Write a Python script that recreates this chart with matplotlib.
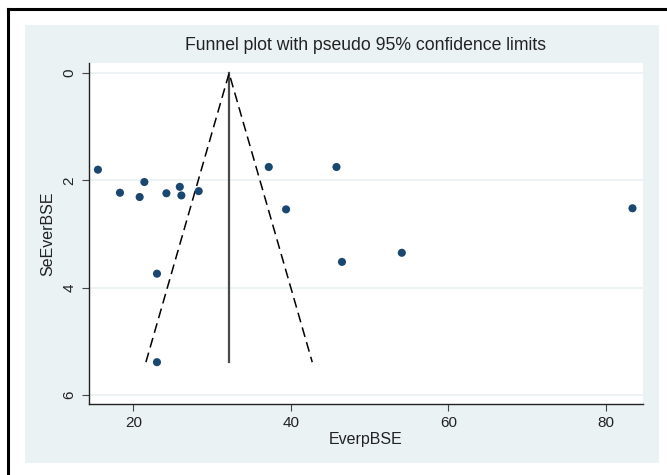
"""
Funnel plot with pseudo 95% confidence limits (Stata look).
"""
import matplotlib.pyplot as plt
import numpy as np
from matplotlib.lines import Line2D
from matplotlib.patches import Rectangle

# Study effect sizes and their standard errors
effect = [15.5, 18.3, 20.8, 21.4, 24.2, 25.9, 26.1, 28.3, 37.2, 39.4,
          45.8, 46.5, 23.0, 23.0, 54.1, 83.4]
se = [1.80, 2.23, 2.31, 2.03, 2.24, 2.12, 2.28, 2.20, 1.75, 2.54,
      1.75, 3.52, 3.74, 5.39, 3.35, 2.52]

pooled = 32.16
x_ticks = [20, 40, 60, 80]
y_ticks = [0, 2, 4, 6]

BG = "#eaf2f3"
NAVY = "#1a476f"

plt.rcParams["font.family"] = ["Liberation Sans", "DejaVu Sans"]

fig = plt.figure(figsize=(6.67, 4.75), dpi=100)
fig.patch.set_facecolor("white")

# light graph region and the black frame round it
fig.add_artist(Rectangle((0.0375, 0.0246), 0.9505, 0.9228, transform=fig.transFigure,
                         facecolor=BG, edgecolor="none", zorder=0))
fig.add_artist(Line2D([0.012, 1.0], [0.981, 0.981], transform=fig.transFigure,
                      color="black", lw=2.2))
fig.add_artist(Line2D([0.012, 0.012], [0.0, 0.981], transform=fig.transFigure,
                      color="black", lw=2.2))

ax = fig.add_axes([0.133, 0.1495, 0.8306, 0.7179])
ax.set_facecolor("white")

# funnel
se_max = max(se)
ax.plot([pooled, pooled], [0, se_max], color="#4a4a4a", lw=1.6, zorder=2)
ax.plot([pooled - 1.96 * se_max, pooled, pooled + 1.96 * se_max], [se_max, 0, se_max],
        color="black", lw=1.1, dashes=(6.5, 3.5), zorder=2)

ax.scatter(effect, se, s=34, color=NAVY, edgecolors="none", zorder=3)

ax.set_xlim(14.33, 84.7)
ax.set_ylim(6.17, -0.19)
ax.set_xticks(x_ticks)
ax.set_yticks(y_ticks)
ax.grid(axis="y", color=BG, lw=1.3)
ax.set_axisbelow(True)

for side in ["top", "right"]:
    ax.spines[side].set_visible(False)
for side in ["left", "bottom"]:
    ax.spines[side].set_color("#222222")
    ax.spines[side].set_linewidth(1.0)

ax.tick_params(direction="out", length=5, width=0.8, color="#444444",
               labelsize=11, labelcolor="#222222", pad=4)
for lab in ax.get_yticklabels():
    lab.set_rotation(90)
    lab.set_va("center")

ax.set_title("Funnel plot with pseudo 95% confidence limits", fontsize=12.7,
             color="#222222", pad=9.5)
ax.set_xlabel("EverpBSE", fontsize=11.5, color="#222222", labelpad=1)
ax.set_ylabel("SeEverBSE", fontsize=11.5, color="#222222", labelpad=5)

fig.savefig("out.png", dpi=100)
